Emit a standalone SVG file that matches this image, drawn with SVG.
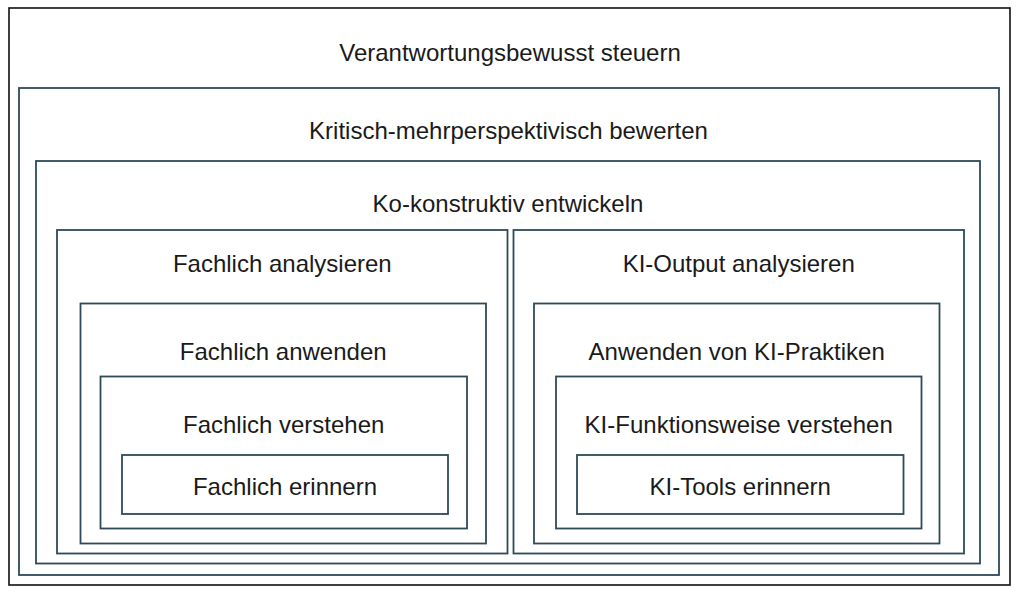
<svg xmlns="http://www.w3.org/2000/svg" width="1024" height="596" viewBox="0 0 1024 596">
<style>
.box{fill:none;stroke:#2e4a5a;stroke-width:1.8}
.outer{fill:none;stroke:#111;stroke-width:1.6}
.lbl{font-family:"Liberation Sans",Arial,Helvetica,sans-serif;font-size:24px;fill:#1a1a1a;text-anchor:middle}
</style>
<rect x="0" y="0" width="1024" height="596" fill="#ffffff"/>
<g id="n-steuern">
<rect class="outer" x="9" y="8" width="1001" height="577"/>
<text class="lbl" x="510" y="61">Verantwortungsbewusst steuern</text>
</g>
<g id="n-bewerten">
<rect class="box" x="19" y="88" width="980" height="487"/>
<text class="lbl" x="508.5" y="139">Kritisch-mehrperspektivisch bewerten</text>
</g>
<g id="n-entwickeln">
<rect class="box" x="36" y="161" width="944" height="402.5"/>
<text class="lbl" x="508" y="211.5">Ko-konstruktiv entwickeln</text>
</g>
<g id="n-fach-analysieren">
<rect class="box" x="57" y="230" width="450.5" height="323.5"/>
<text class="lbl" x="282.3" y="272">Fachlich analysieren</text>
</g>
<g id="n-ki-analysieren">
<rect class="box" x="513.5" y="230" width="450.5" height="323.5"/>
<text class="lbl" x="738.7" y="272">KI-Output analysieren</text>
</g>
<g id="n-fach-anwenden">
<rect class="box" x="80.5" y="303.5" width="405.5" height="240"/>
<text class="lbl" x="283.2" y="360">Fachlich anwenden</text>
</g>
<g id="n-ki-anwenden">
<rect class="box" x="534" y="303.5" width="405.5" height="240"/>
<text class="lbl" x="736.7" y="360">Anwenden von KI-Praktiken</text>
</g>
<g id="n-fach-verstehen">
<rect class="box" x="100.5" y="376.5" width="366.5" height="152"/>
<text class="lbl" x="283.7" y="433">Fachlich verstehen</text>
</g>
<g id="n-ki-verstehen">
<rect class="box" x="556" y="376.5" width="365.5" height="152"/>
<text class="lbl" x="738.7" y="433">KI-Funktionsweise verstehen</text>
</g>
<g id="n-fach-erinnern">
<rect class="box" x="122" y="455" width="326" height="59"/>
<text class="lbl" x="285" y="494.5">Fachlich erinnern</text>
</g>
<g id="n-ki-erinnern">
<rect class="box" x="577" y="455" width="326.5" height="59"/>
<text class="lbl" x="740.2" y="494.5">KI-Tools erinnern</text>
</g>
<g id="connectors"></g>
</svg>
